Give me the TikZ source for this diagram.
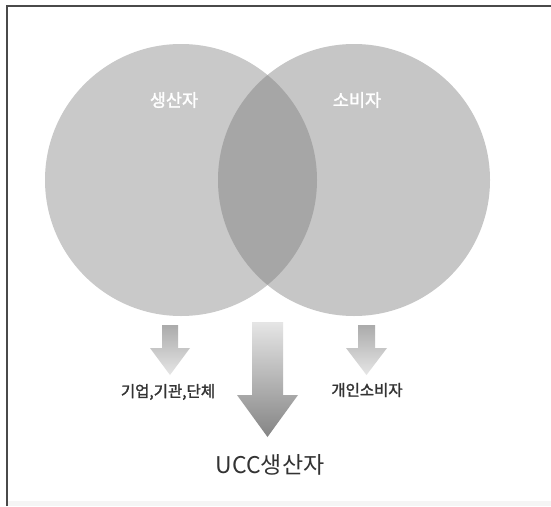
\documentclass[tikz,border=0pt]{standalone}
\usepackage{fontspec}
\newfontfamily\kr{Noto Sans CJK KR}
\newfontfamily\krsemi[FakeBold=1.6]{Noto Sans CJK KR}
\definecolor{circL}{HTML}{C9C9C9}
\definecolor{circR}{HTML}{C6C6C6}
\definecolor{inter}{HTML}{A6A6A6}
\definecolor{frame}{HTML}{4A4A4A}
\definecolor{txt}{HTML}{333333}
\tikzset{
  venn/.style={circle, minimum size=272pt, inner sep=0pt, draw=none},
  inlabel/.style={text=white, font=\krsemi\fontsize{17.5}{17.5}\selectfont},
  sublabel/.style={text=txt, font=\krsemi\fontsize{15.5}{15.5}\selectfont},
  mainlabel/.style={text=txt, font=\kr\fontsize{23}{23}\selectfont},
  smallarrow/.style={top color=black!33, bottom color=black!10, draw=none},
  bigarrow/.style={top color=black!10, middle color=black!45, bottom color=black!48, draw=none}
}
\begin{document}
\begin{tikzpicture}[x=1pt,y=1pt]
\useasboundingbox (0,0) rectangle (551,-506);
\fill[white] (0,0) rectangle (551,-506);
\fill[black!4] (7,-501) rectangle (551,-506);
\draw[frame, line width=1.6pt] (7,-506) -- (7,-6) -- (551,-6);
% circles
\node[venn, fill=circL] (L) at (181,-180) {};
\node[venn, fill=circR] (R) at (354,-180) {};
\begin{scope}
  \clip (L.center) circle (136);
  \fill[inter] (R.center) circle (136);
\end{scope}
\node[inlabel] (prod) at (174,-100) {생산자};
\node[inlabel] (cons) at (357,-100) {소비자};
% arrows
\path[smallarrow] (162,-325) -- (178,-325) -- (178,-348) -- (190,-348) -- (170,-375) -- (150,-348) -- (162,-348) -- cycle;
\path[smallarrow] (358,-325) -- (375,-325) -- (375,-348) -- (387,-348) -- (366.5,-375) -- (346,-348) -- (358,-348) -- cycle;
\path[bigarrow] (252,-322) -- (283,-322) -- (283,-395) -- (298,-395) -- (267.5,-437) -- (237,-395) -- (252,-395) -- cycle;
% labels
\node[sublabel] (org) at (168,-392) {기업,기관,단체};
\node[sublabel] (ind) at (367,-390) {개인소비자};
\node[mainlabel] (ucc) at (270,-465) {UCC생산자};
\end{tikzpicture}
\end{document}
